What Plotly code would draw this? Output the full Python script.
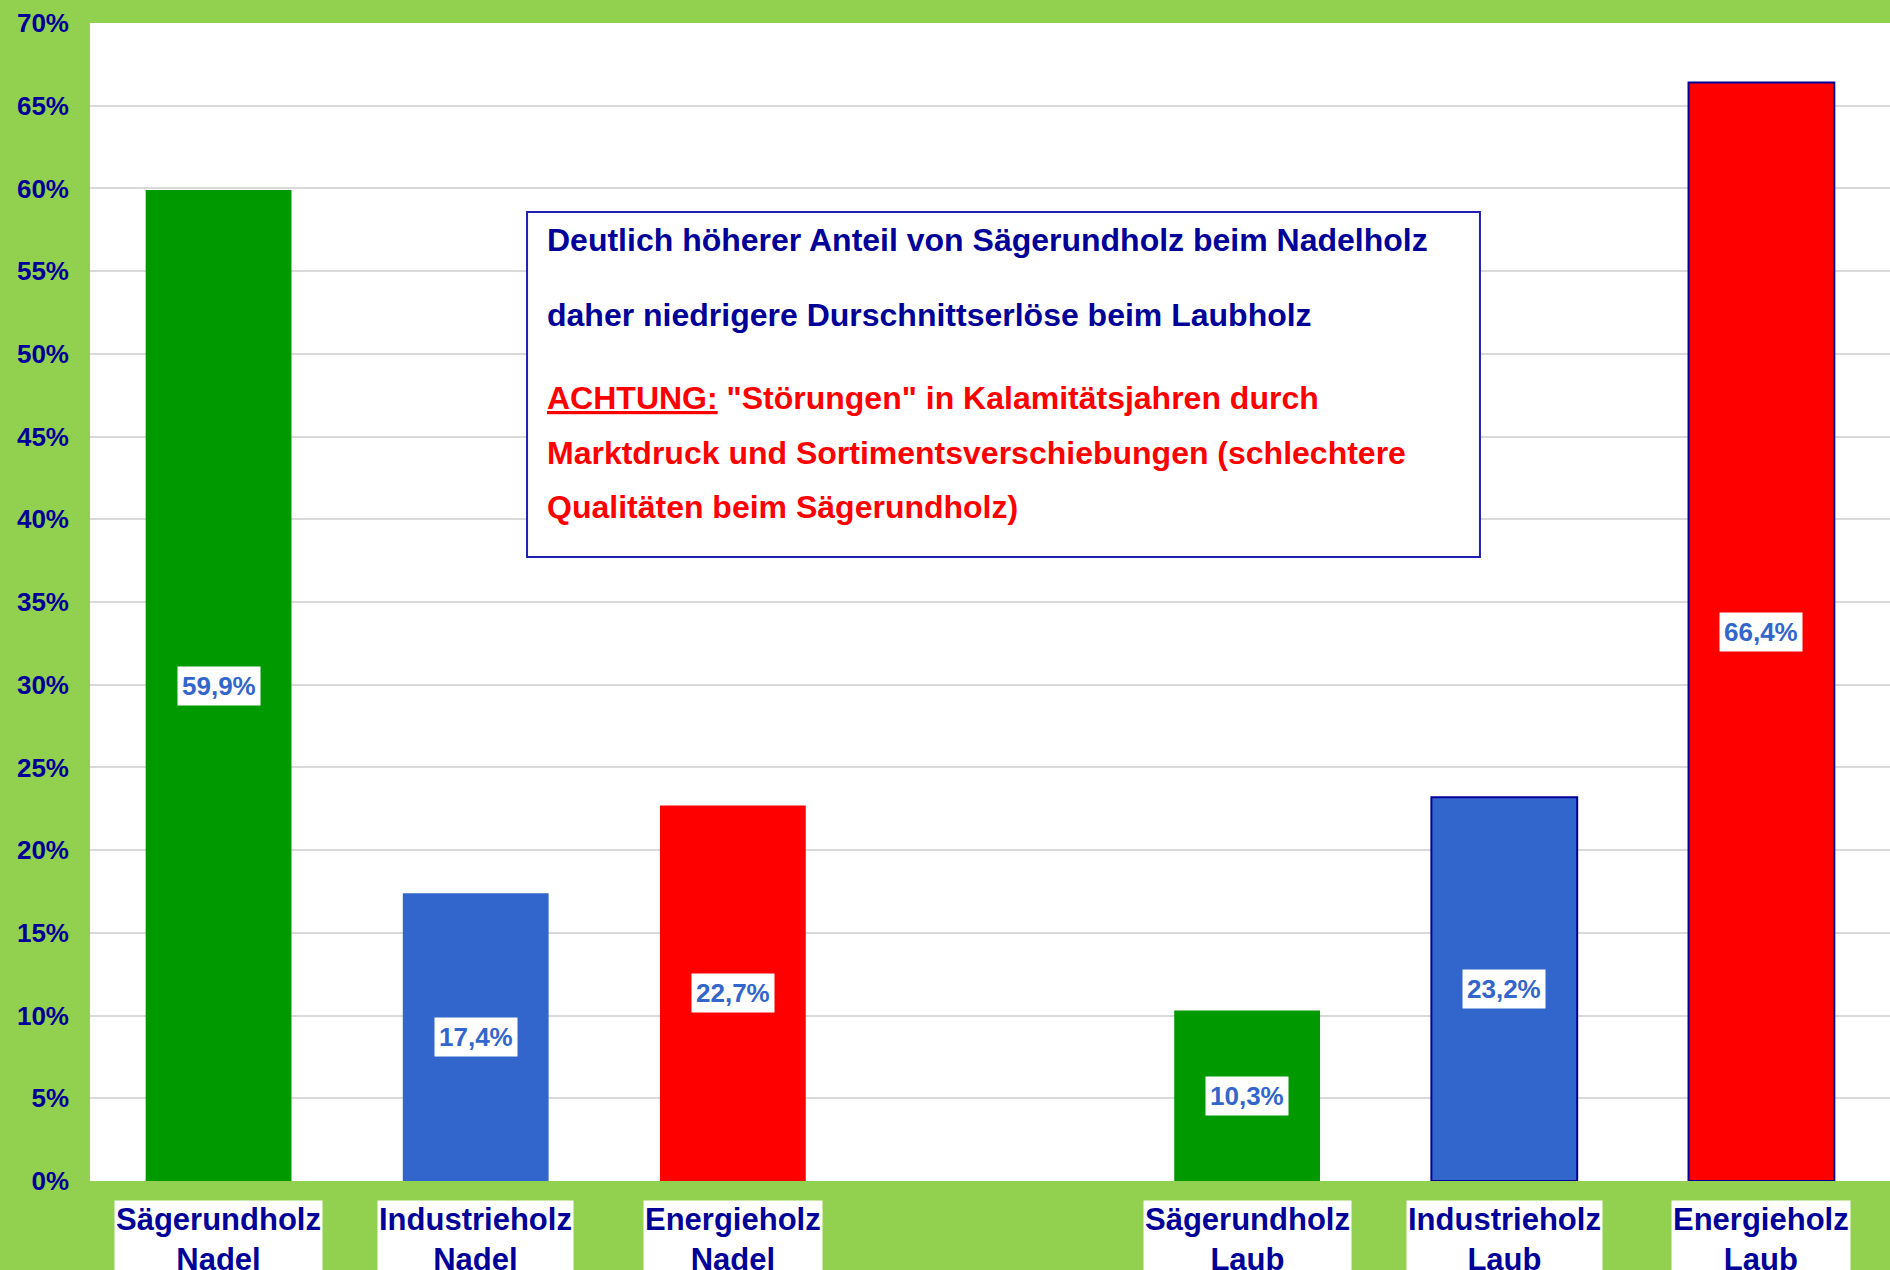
import plotly.graph_objects as go

# ---- data ----
categories = ["Sägerundholz<br>Nadel", "Industrieholz<br>Nadel", "Energieholz<br>Nadel", "",
              "Sägerundholz<br>Laub", "Industrieholz<br>Laub", "Energieholz<br>Laub"]
values = [59.9, 17.4, 22.7, None, 10.3, 23.2, 66.4]
value_labels = ["59,9%", "17,4%", "22,7%", "", "10,3%", "23,2%", "66,4%"]
bar_colors = ["#009900", "#3366CC", "#FF0000", "#FFFFFF", "#009900", "#3366CC", "#FF0000"]
bar_outline = [0, 0, 0, 0, 0, 2, 2]
y_ticks = list(range(0, 75, 5))
y_tick_text = [f"{v}%" for v in y_ticks]

note_lines = [
    ("Deutlich höherer Anteil von Sägerundholz beim Nadelholz", "#000099"),
    ("daher niedrigere Durschnittserlöse beim Laubholz", "#000099"),
    ("<u>ACHTUNG:</u> \"Störungen\" in Kalamitätsjahren durch", "#FF0000"),
    ("Marktdruck und Sortimentsverschiebungen (schlechtere", "#FF0000"),
    ("Qualitäten beim Sägerundholz)", "#FF0000"),
]

FONT = "Liberation Sans, Arial, sans-serif"
NAVY = "#000099"
BG = "#92D050"

x_idx = list(range(len(categories)))

fig = go.Figure()
fig.add_trace(go.Bar(
    x=x_idx, y=values, width=0.567,
    marker=dict(color=bar_colors, line=dict(color=NAVY, width=bar_outline)),
    hoverinfo="skip", showlegend=False,
))

annotations = []
# value labels in white boxes at bar middle
for xi, v, lab in zip(x_idx, values, value_labels):
    if v is None:
        continue
    annotations.append(dict(
        x=xi, y=v / 2, xref="x", yref="y", text="<b>" + lab + "</b>",
        showarrow=False, bgcolor="white", borderpad=4,
        font=dict(family=FONT, size=26, color="#3366CC"),
    ))
# category labels in white boxes below axis
for xi, c in zip(x_idx, categories):
    if not c:
        continue
    annotations.append(dict(
        x=xi, y=-0.016, xref="x", yref="paper", yanchor="top",
        text="<b>" + c + "</b>", showarrow=False, bgcolor="white", borderpad=1,
        font=dict(family=FONT, size=31, color=NAVY),
    ))
# note text lines
line_y = [0.8126, 0.7478, 0.6762, 0.6287, 0.5820]
for (t, col), yy in zip(note_lines, line_y):
    annotations.append(dict(
        x=0.2525, y=yy, xref="paper", yref="paper", xanchor="left", yanchor="middle",
        text="<b>" + t + "</b>", showarrow=False,
        font=dict(family=FONT, size=32, color=col),
    ))

fig.update_layout(
    width=1890, height=1270,
    margin=dict(l=90, r=0, t=23, b=89),
    paper_bgcolor=BG, plot_bgcolor="white",
    bargap=0.433,
    annotations=annotations,
    shapes=[dict(type="rect", xref="paper", yref="paper",
                 x0=0.2428, x1=0.7722, y0=0.5389, y1=0.8368,
                 line=dict(color="#1F1FB0", width=2), fillcolor="white", layer="above")],
    xaxis=dict(range=[-0.5, len(categories) - 0.5], showticklabels=False,
               showgrid=False, zeroline=False, fixedrange=True),
    yaxis=dict(range=[0, 70], tickmode="array", tickvals=y_ticks, ticktext=y_tick_text,
               gridcolor="#D9D9D9", gridwidth=1.5, zeroline=False,
               tickfont=dict(family=FONT, size=26, color=NAVY, weight="bold"),
               ticklabelstandoff=20),
)

fig.write_html("out.html", config={"displayModeBar": False},
               post_script="document.body.style.margin='0';document.body.style.overflow='hidden';")
